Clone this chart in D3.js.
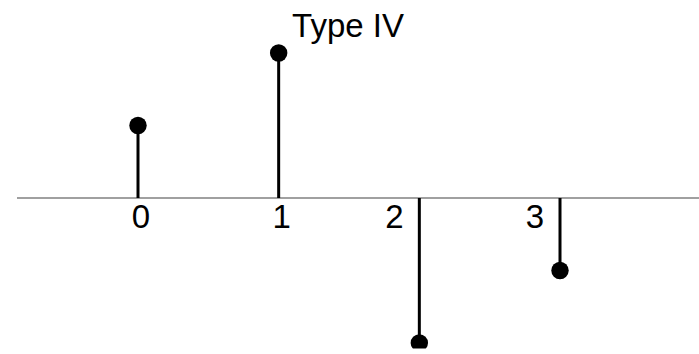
<!DOCTYPE html>
<html>
<head>
<meta charset="utf-8">
<script src="https://cdn.jsdelivr.net/npm/d3@7"></script>
<style>
  body { margin: 0; background: #fff; }
  svg { display: block; }
</style>
</head>
<body>
<script>
const w = 699;
const h = 354;

// impulse response samples of the filter
const taps = [0, 1, 2, 3];
const values = [0.5, 1, -1, -0.5];
const tickLabels = ["0", "1", "2", "3"];
const title = "Type IV";

const svg = d3.select("body")
  .append("svg")
  .attr("width", w)
  .attr("height", h);

// the plot area is cut off just above the bottom edge
svg.append("clipPath")
  .attr("id", "plotclip")
  .append("rect")
  .attr("x", 0)
  .attr("y", 0)
  .attr("width", w)
  .attr("height", 348.5);

const xScale = d3.scaleLinear()
  .domain([0, 3])
  .range([138, 560]);

const yScale = d3.scaleLinear()
  .domain([-1, 1])
  .range([343, 53]);

const plot = svg.append("g")
  .attr("clip-path", "url(#plotclip)");

// horizontal axis
plot.append("line")
  .attr("x1", 17)
  .attr("x2", w)
  .attr("y1", yScale(0))
  .attr("y2", yScale(0))
  .attr("stroke", "#808080")
  .attr("stroke-width", 1.5);

// stems
plot.selectAll("line.stem")
  .data(taps)
  .enter()
  .append("line")
  .attr("class", "stem")
  .attr("x1", (d) => xScale(d))
  .attr("x2", (d) => xScale(d))
  .attr("y1", yScale(0))
  .attr("y2", (d, i) => yScale(values[i]))
  .attr("stroke", "#000")
  .attr("stroke-width", 3);

// dots on top of stems
plot.selectAll("circle")
  .data(taps)
  .enter()
  .append("circle")
  .attr("cx", (d) => xScale(d))
  .attr("cy", (d, i) => yScale(values[i]))
  .attr("r", 8.7)
  .attr("fill", "#000");

// tick labels, moved left when the stem goes down
svg.selectAll("text.tick")
  .data(taps)
  .enter()
  .append("text")
  .attr("class", "tick")
  .attr("x", (d, i) => xScale(d) + (values[i] < 0 ? -25 : 3))
  .attr("y", 228)
  .attr("text-anchor", "middle")
  .style("font-family", "Liberation Sans, Arial, sans-serif")
  .style("font-size", "33px")
  .attr("fill", "#000")
  .text((d, i) => tickLabels[i]);

svg.append("text")
  .attr("x", 348)
  .attr("y", 36.5)
  .attr("text-anchor", "middle")
  .style("font-family", "Liberation Sans, Arial, sans-serif")
  .style("font-size", "33px")
  .attr("fill", "#000")
  .text(title);
</script>
</body>
</html>
